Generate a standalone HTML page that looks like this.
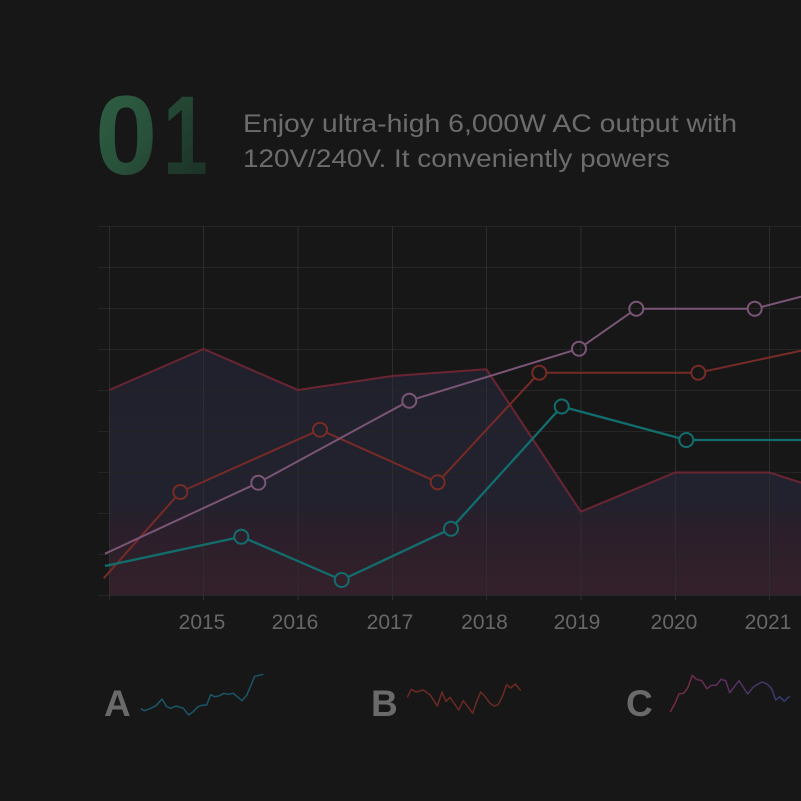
<!DOCTYPE html>
<html>
<head>
<meta charset="utf-8">
<style>
  html, body { margin:0; padding:0; background:#171717; }
  body { width:801px; height:801px; overflow:hidden; }
  svg { display:block; }
  text { font-family: "Liberation Sans", sans-serif; }
</style>
</head>
<body>
<svg width="801" height="801" viewBox="0 0 801 801" xmlns="http://www.w3.org/2000/svg">
  <defs>
    <linearGradient id="titleGrad" x1="96" y1="88" x2="205" y2="178" gradientUnits="userSpaceOnUse">
      <stop offset="0" stop-color="#2e6044"/>
      <stop offset="0.5" stop-color="#28503a"/>
      <stop offset="1" stop-color="#1d3328"/>
    </linearGradient>
    <linearGradient id="titleGrad2" x1="0" y1="88" x2="60" y2="178" gradientUnits="userSpaceOnUse">
      <stop offset="0" stop-color="#264e38"/>
      <stop offset="1" stop-color="#1c3126"/>
    </linearGradient>
    <linearGradient id="areaGrad" x1="0" y1="349" x2="0" y2="595" gradientUnits="userSpaceOnUse">
      <stop offset="0" stop-color="#21212d"/>
      <stop offset="0.62" stop-color="#22212e"/>
      <stop offset="0.72" stop-color="#2a1f2b"/>
      <stop offset="1" stop-color="#34202a"/>
    </linearGradient>
    <linearGradient id="cGrad" x1="670" y1="0" x2="790" y2="0" gradientUnits="userSpaceOnUse">
      <stop offset="0" stop-color="#7a2a3a"/>
      <stop offset="0.5" stop-color="#5a3163"/>
      <stop offset="1" stop-color="#323c73"/>
    </linearGradient>
    <clipPath id="plotClip"><rect x="95" y="200" width="706" height="410"/></clipPath>
    <mask id="mPurple" maskUnits="userSpaceOnUse" x="0" y="0" width="801" height="801">
      <rect x="0" y="0" width="801" height="801" fill="#fff"/>
      <circle cx="258.3" cy="482.7" r="7" fill="#000"/>
      <circle cx="409.3" cy="400.7" r="7" fill="#000"/>
      <circle cx="579" cy="348.7" r="7" fill="#000"/>
      <circle cx="636.3" cy="308.7" r="7" fill="#000"/>
      <circle cx="754.7" cy="308.7" r="7" fill="#000"/>
    </mask>
    <mask id="mRed" maskUnits="userSpaceOnUse" x="0" y="0" width="801" height="801">
      <rect x="0" y="0" width="801" height="801" fill="#fff"/>
      <circle cx="180.3" cy="492" r="7" fill="#000"/>
      <circle cx="320" cy="429.7" r="7" fill="#000"/>
      <circle cx="437.7" cy="482.3" r="7" fill="#000"/>
      <circle cx="539.3" cy="372.7" r="7" fill="#000"/>
      <circle cx="698.3" cy="372.7" r="7" fill="#000"/>
    </mask>
    <mask id="mTeal" maskUnits="userSpaceOnUse" x="0" y="0" width="801" height="801">
      <rect x="0" y="0" width="801" height="801" fill="#fff"/>
      <circle cx="241.3" cy="536.7" r="7" fill="#000"/>
      <circle cx="341.7" cy="580" r="7" fill="#000"/>
      <circle cx="451" cy="528.7" r="7" fill="#000"/>
      <circle cx="561.7" cy="406.5" r="7" fill="#000"/>
      <circle cx="686.3" cy="440" r="7" fill="#000"/>
    </mask>
  </defs>

  <rect x="0" y="0" width="801" height="801" fill="#171717"/>

  <!-- Title -->
  <text x="95" y="174" font-size="112" font-weight="bold" fill="url(#titleGrad)">0</text>
  <g transform="translate(163,0) scale(0.72,1)">
    <text x="0" y="174" font-size="112" font-weight="bold" fill="url(#titleGrad2)">1</text>
  </g>

  <text x="243" y="132" font-size="25" fill="#6c6c6c" textLength="494" lengthAdjust="spacingAndGlyphs">Enjoy ultra-high 6,000W AC output with</text>
  <text x="243" y="167" font-size="25" fill="#6c6c6c" textLength="427" lengthAdjust="spacingAndGlyphs">120V/240V. It conveniently powers</text>

  <!-- Area series -->
  <g clip-path="url(#plotClip)">
    <polygon points="109.3,390 203.6,349 297.9,390 392.2,376 486.5,369.3 580.8,511.7 675.1,472.5 769.4,472.5 801,482.7 801,595 109.3,595" fill="url(#areaGrad)"/>
  </g>

  <!-- Grid -->
  <g stroke="#252525" stroke-width="1">
    <line x1="98" y1="226.5" x2="801" y2="226.5"/>
    <line x1="98" y1="267.5" x2="801" y2="267.5"/>
    <line x1="98" y1="308.5" x2="801" y2="308.5"/>
    <line x1="98" y1="349.5" x2="801" y2="349.5"/>
    <line x1="98" y1="390.5" x2="801" y2="390.5"/>
    <line x1="98" y1="431.5" x2="801" y2="431.5"/>
    <line x1="98" y1="472.5" x2="801" y2="472.5"/>
    <line x1="98" y1="513.5" x2="801" y2="513.5"/>
    <line x1="98" y1="554.5" x2="801" y2="554.5"/>
    <line x1="98" y1="595.5" x2="801" y2="595.5"/>
  </g>
  <g stroke="#2d2d30" stroke-width="1">
    <line x1="109.5" y1="226" x2="109.5" y2="600"/>
    <line x1="203.5" y1="226" x2="203.5" y2="600"/>
    <line x1="298" y1="226" x2="298" y2="600"/>
    <line x1="392.5" y1="226" x2="392.5" y2="600"/>
    <line x1="486.5" y1="226" x2="486.5" y2="600"/>
    <line x1="581" y1="226" x2="581" y2="600"/>
    <line x1="675.5" y1="226" x2="675.5" y2="600"/>
    <line x1="769.5" y1="226" x2="769.5" y2="600"/>
  </g>

  <g clip-path="url(#plotClip)" fill="none" stroke-linejoin="round">
    <!-- area outline -->
    <polyline points="109.3,390 203.6,349 297.9,390 392.2,376 486.5,369.3 580.8,511.7 675.1,472.5 769.4,472.5 801,482.7" stroke="#6a2532" stroke-width="2"/>

    <!-- red series -->
    <polyline mask="url(#mRed)" points="103.7,578.3 180.3,492 320,429.7 437.7,482.3 539.3,372.7 698.3,372.7 801,350.7" stroke="#772b26" stroke-width="2"/>
    <g stroke="#772b26" stroke-width="2">
      <circle cx="180.3" cy="492" r="7"/>
      <circle cx="320" cy="429.7" r="7"/>
      <circle cx="437.7" cy="482.3" r="7"/>
      <circle cx="539.3" cy="372.7" r="7"/>
      <circle cx="698.3" cy="372.7" r="7"/>
    </g>

    <!-- purple series -->
    <polyline mask="url(#mPurple)" points="105,553.7 258.3,482.7 409.3,400.7 579,348.7 636.3,308.7 754.7,308.7 801,296.7" stroke="#7a5576" stroke-width="2"/>
    <g stroke="#7a5576" stroke-width="2">
      <circle cx="258.3" cy="482.7" r="7"/>
      <circle cx="409.3" cy="400.7" r="7"/>
      <circle cx="579" cy="348.7" r="7"/>
      <circle cx="636.3" cy="308.7" r="7"/>
      <circle cx="754.7" cy="308.7" r="7"/>
    </g>

    <!-- teal series -->
    <polyline mask="url(#mTeal)" points="105,566 241.3,536.7 341.7,580 451,528.7 561.7,406.5 686.3,440 801,440" stroke="#126e6e" stroke-width="2.3"/>
    <g stroke="#126e6e" stroke-width="2">
      <circle cx="241.3" cy="536.7" r="7"/>
      <circle cx="341.7" cy="580" r="7"/>
      <circle cx="451" cy="528.7" r="7"/>
      <circle cx="561.7" cy="406.5" r="7"/>
      <circle cx="686.3" cy="440" r="7"/>
    </g>
  </g>

  <!-- X axis labels -->
  <g font-size="21" fill="#676767" text-anchor="middle">
    <text x="202" y="629">2015</text>
    <text x="295" y="629">2016</text>
    <text x="390" y="629">2017</text>
    <text x="484.5" y="629">2018</text>
    <text x="577" y="629">2019</text>
    <text x="674" y="629">2020</text>
    <text x="768" y="629">2021</text>
  </g>

  <!-- Sparklines -->
  <g font-size="37" font-weight="bold" fill="#6a6a6a">
    <text x="104" y="716">A</text>
    <text x="371" y="716">B</text>
    <text x="626" y="716">C</text>
  </g>
  <g fill="none" stroke-width="1.5" stroke-linejoin="round">
    <polyline stroke="#1a5668" points="140.7,708.7 144.3,710.7 150,708.7 156,705.7 162,699 166.7,706.7 170.7,708.3 176,706 183.3,708.3 188.7,715 193.3,711.7 198,706.7 202,705.3 206.7,705 210.7,694.7 214.7,696.7 218.7,696 224,693.3 228,694.3 233.3,693.3 242,700.7 246.7,695.3 254.7,676.3 263.3,674.3"/>
    <polyline stroke="#6c2a22" points="407.3,697.3 411.3,689.3 416,692 423.3,690 430,694.7 437.3,706 442,692 446,701.3 450,697.3 458.7,710 463.3,700.7 472.7,713.3 476.7,701.3 480.7,692 484.7,696 490,703.3 494,706 498,704.7 502,697.3 506.7,684.7 510.7,688 515.3,684 520.7,690.7"/>
    <polyline stroke="url(#cGrad)" points="670.3,712 675,703.3 679,694 683.7,693.3 687.7,688 692.3,675.3 696.3,679.3 701.7,680.7 707,688.7 711.7,685.3 716.3,685.3 721,679.3 725.7,680.7 729.7,692.7 739,680.7 747.7,694 753.7,686.7 761.7,682 767,684 771.7,688.7 775.7,700 779.7,696.7 784.3,701.3 789.7,696"/>
  </g>
</svg>
</body>
</html>
